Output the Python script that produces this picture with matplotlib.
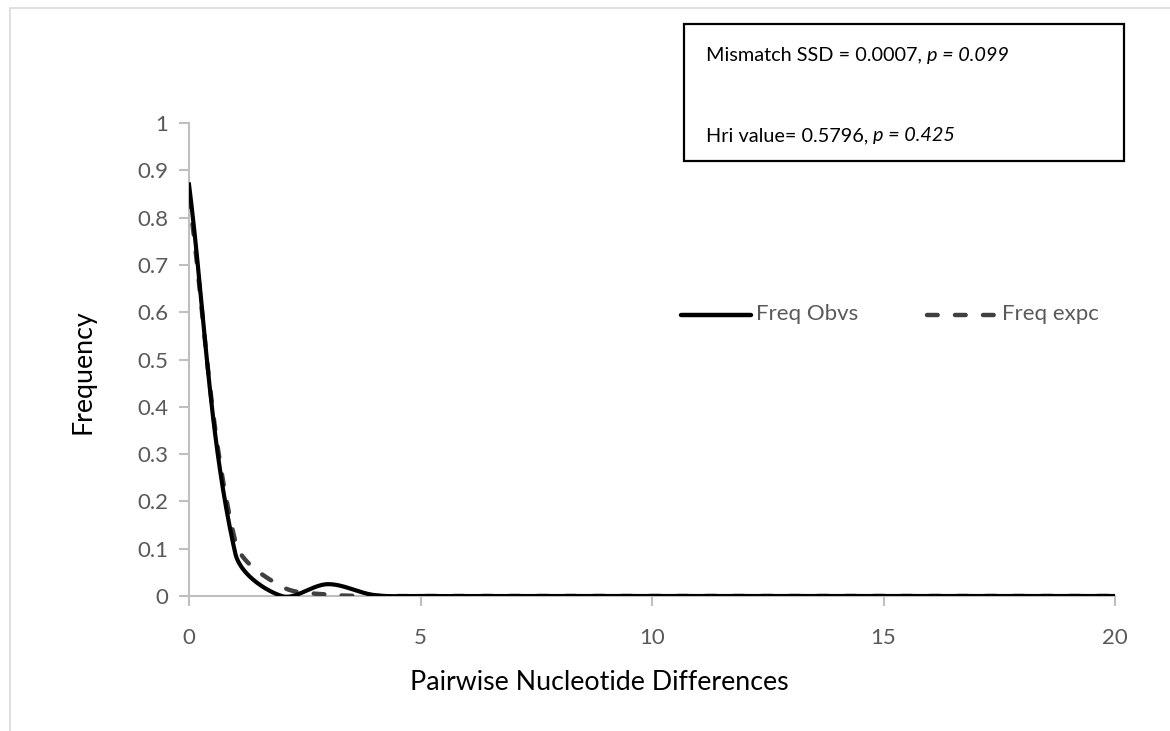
import numpy as np
import matplotlib
matplotlib.use("Agg")
import matplotlib.pyplot as plt
from matplotlib.patches import Rectangle

plt.rcParams['font.family'] = ['Lato', 'DejaVu Sans']

# Data
x_diff = list(range(0, 21))
freq_obs = [0.870, 0.090, 0.000, 0.025, 0.002] + [0.0] * 16
freq_exp = [0.845, 0.115, 0.020, 0.003, 0.000] + [0.0] * 16
y_ticks = [0, 0.1, 0.2, 0.3, 0.4, 0.5, 0.6, 0.7, 0.8, 0.9, 1]
y_tick_labels = ["0", "0.1", "0.2", "0.3", "0.4", "0.5", "0.6", "0.7", "0.8", "0.9", "1"]
x_ticks = [0, 5, 10, 15, 20]
stats_line1 = ("Mismatch SSD = 0.0007, ", "p = 0.099")
stats_line2 = ("Hri value= 0.5796, ", "p = 0.425")

W, H = 1170, 731
fig = plt.figure(figsize=(W / 100, H / 100), dpi=100)
ax = fig.add_axes([189 / W, 1 - 596 / H, (1115 - 189) / W, (596 - 123) / H])
ax.set_xlim(0, 20)
ax.set_ylim(0, 1)


def smooth(xs, ys, n=40):
    """Excel-style smoothed line: Bezier through points, control handles
    scaled by neighbouring segment lengths in display space."""
    pts = ax.transData.transform(np.column_stack([xs, ys]).astype(float))
    m = len(pts)
    out = []
    t = np.linspace(0, 1, n)
    for i in range(m - 1):
        p1, p2 = pts[i], pts[i + 1]
        p0 = pts[i - 1] if i > 0 else p1
        p3 = pts[i + 2] if i + 2 < m else p2
        d01 = np.linalg.norm(p1 - p0)
        d12 = np.linalg.norm(p2 - p1)
        d23 = np.linalg.norm(p3 - p2)
        if i > 0 and d01 + d12 > 0:
            c1 = p1 + (p2 - p0) / 3.0 * d12 / (d01 + d12)
        else:
            c1 = p1 + (p2 - p1) / 3.0
        if i + 2 < m and d12 + d23 > 0:
            c2 = p2 - (p3 - p1) / 3.0 * d12 / (d12 + d23)
        else:
            c2 = p2 - (p2 - p1) / 3.0
        b = ((1 - t) ** 3)[:, None] * p1 + (3 * (1 - t) ** 2 * t)[:, None] * c1 \
            + (3 * (1 - t) * t ** 2)[:, None] * c2 + (t ** 3)[:, None] * p2
        out.append(b)
    out = np.vstack(out)
    d = ax.transData.inverted().transform(out)
    return d[:, 0], d[:, 1]


DASH = (0, (2.4, 3.9))

sx, sy = smooth(x_diff, freq_exp)
ax.plot(sx, sy, color='#404040', lw=3.2, linestyle=DASH,
        dash_capstyle='round', label='Freq expc', zorder=3)
ox, oy = smooth(x_diff, freq_obs)
ax.plot(ox, oy, color='black', lw=3.0, label='Freq Obvs', zorder=4)

ax.set_xticks(x_ticks)
ax.set_xticklabels([str(v) for v in x_ticks])
ax.set_yticks(y_ticks)
ax.set_yticklabels(y_tick_labels)

for s in ['top', 'right']:
    ax.spines[s].set_visible(False)
for s in ['left', 'bottom']:
    ax.spines[s].set_color('#bfbfbf')
    ax.spines[s].set_linewidth(1.5)
ax.tick_params(axis='both', colors='#bfbfbf', length=7, width=1.5, labelcolor='#595959',
               labelsize=16, direction='out')
ax.tick_params(axis='y', pad=8)
ax.tick_params(axis='x', pad=16)


def fx(p):
    return p / W


def fy(p):
    return 1 - p / H


fig.text(fx(599), fy(683), 'Pairwise Nucleotide Differences', fontsize=19.3, color='black',
         ha='center', va='center')
fig.text(fx(83), fy(372), 'Frequency', fontsize=19.3, color='black', ha='center', va='center',
         rotation=90)

# Legend (manual, in figure pixel coordinates)
fig.add_artist(plt.Line2D([fx(681), fx(751)], [fy(315), fy(315)], color='black', lw=3.2,
                          solid_capstyle='round'))
fig.text(fx(756), fy(314), 'Freq Obvs', fontsize=16, color='#595959', va='center', ha='left')
fig.add_artist(plt.Line2D([fx(927), fx(995)], [fy(315), fy(315)], color='#404040', lw=3.2,
                          linestyle=DASH, dash_capstyle='round'))
fig.text(fx(1002), fy(314), 'Freq expc', fontsize=16, color='#595959', va='center', ha='left')

# Stats box
fig.add_artist(Rectangle((fx(684), fy(161)), (1124 - 684) / W, (161 - 24) / H,
                         transform=fig.transFigure, fill=False, edgecolor='black', lw=1.6))


def two_part(xp, yp, a, b):
    t1 = fig.text(fx(xp), fy(yp), a, fontsize=14.3, color='black', va='center', ha='left')
    fig.canvas.draw()
    bb = t1.get_window_extent()
    fig.text(bb.x1 / W, fy(yp), b, fontsize=14.3, color='black', va='center', ha='left',
             style='italic')


two_part(706, 55, *stats_line1)
two_part(706, 136, *stats_line2)

# Outer chart border
fig.add_artist(Rectangle((fx(9.5), -0.05), 1.2, fy(8.5) + 0.05, transform=fig.transFigure,
                         fill=False, edgecolor='#d9d9d9', lw=1.2))

fig.savefig('out.png', dpi=100)
